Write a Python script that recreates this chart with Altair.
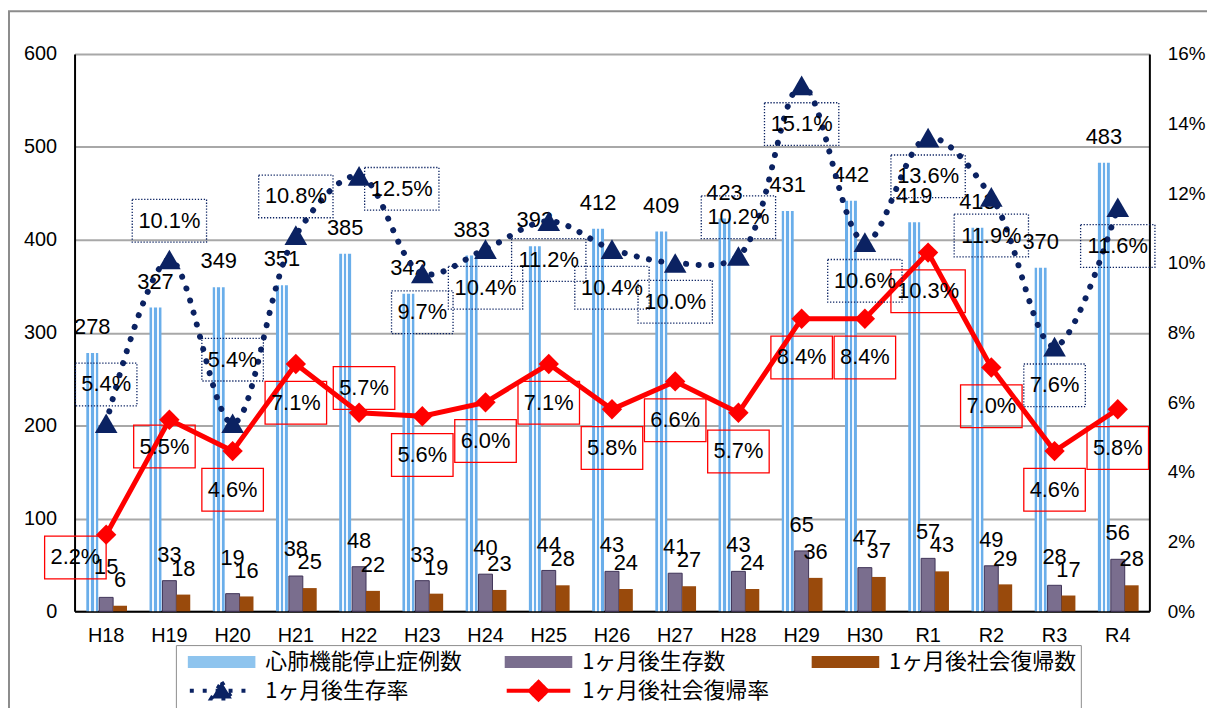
import altair as alt
import pandas as pd

# ---------------- data ----------------
categories = ["H18", "H19", "H20", "H21", "H22", "H23", "H24", "H25", "H26",
              "H27", "H28", "H29", "H30", "R1", "R2", "R3", "R4"]
cases = [278, 327, 349, 351, 385, 342, 383, 393, 412, 409, 423, 431, 442, 419, 413, 370, 483]
survived = [15, 33, 19, 38, 48, 33, 40, 44, 43, 41, 43, 65, 47, 57, 49, 28, 56]
returned = [6, 18, 16, 25, 22, 19, 23, 28, 24, 27, 24, 36, 37, 43, 29, 17, 28]
survival_rate = [5.4, 10.1, 5.4, 10.8, 12.5, 9.7, 10.4, 11.2, 10.4, 10.0, 10.2, 15.1, 10.6, 13.6, 11.9, 7.6, 11.6]
return_rate = [2.2, 5.5, 4.6, 7.1, 5.7, 5.6, 6.0, 7.1, 5.8, 6.6, 5.7, 8.4, 8.4, 10.3, 7.0, 4.6, 5.8]
series_names = ["心肺機能停止症例数", "1ヶ月後生存数", "1ヶ月後社会復帰数", "1ヶ月後生存率", "1ヶ月後社会復帰率"]
left_ticks = [0, 100, 200, 300, 400, 500, 600]
right_ticks = [0, 2, 4, 6, 8, 10, 12, 14, 16]

# label placement (style)
survival_label_pos = ["above", "above", "above_far", "above", "right", "below", "below", "below", "below",
                      "below", "above", "below", "below", "below", "below", "below", "below"]
return_label_pos = ["left", "below_near", "below", "below", "above_near", "below", "below", "below", "below",
                    "below", "below", "below", "below", "below", "below", "below", "below"]

# ---------------- style ----------------
W, H = 1082, 561
RMAX = 16
BAND = W / len(categories)
PX_PER_PCT = H / RMAX
FONT = "Liberation Sans, Noto Sans CJK JP"
JP_FONT = "Noto Sans CJK JP"
NAVY = "#0b2262"
RED = "#ff0000"
BROWN = "#994a0c"
PURPLE = "#7a6e8e"
OFFSETS = {"above": (0, -39), "above_far": (0, -64), "below": (0, 39), "right": (43, 13),
           "left": (-31, 23), "above_near": (5, -25), "below_near": (-5, 27)}

df = pd.DataFrame({
    "cat": categories, "cases": cases, "survived": survived, "returned": returned,
    "srate": survival_rate, "rrate": return_rate,
    "sdx": [OFFSETS[p][0] + BAND / 2 for p in survival_label_pos],
    "sdy": [OFFSETS[p][1] for p in survival_label_pos],
    "rdx": [OFFSETS[p][0] + BAND / 2 for p in return_label_pos],
    "rdy": [OFFSETS[p][1] for p in return_label_pos],
})

NARROW = "M-1.44,-1 L1.44,-1 L1.44,1 L-1.44,1 Z"
WIDE = "M-1.74,-1 L1.74,-1 L1.74,1 L-1.74,1 Z"

SB, SW = "#6aaeea", "#f2f8fe"
blue_grad = alt.Gradient(
    gradient="linear", x1=0, x2=1, y1=0, y2=0,
    stops=[alt.GradientStop(offset=0, color=SB), alt.GradientStop(offset=0.22, color=SB),
           alt.GradientStop(offset=0.22, color=SW), alt.GradientStop(offset=0.39, color=SW),
           alt.GradientStop(offset=0.39, color=SB), alt.GradientStop(offset=0.61, color=SB),
           alt.GradientStop(offset=0.61, color=SW), alt.GradientStop(offset=0.78, color=SW),
           alt.GradientStop(offset=0.78, color=SB), alt.GradientStop(offset=1, color=SB)])

x_axis = alt.Axis(title=None, labelAngle=0, labelFontSize=20, labelPadding=14, ticks=False,
                  domainColor="black", domainWidth=2, labelColor="black", labelFont=FONT)
x_enc = alt.X("cat:N", sort=categories, scale=alt.Scale(paddingInner=0, paddingOuter=0), axis=x_axis)

yl_axis = alt.Axis(title=None, values=left_ticks, grid=True, gridColor="#a8a8a8", gridWidth=2,
                   domainColor="black", domainWidth=2, ticks=False, labelFontSize=20, labelPadding=18,
                   labelColor="black", labelFont=FONT)
yl_scale = alt.Scale(domain=[0, 600], nice=False)
yr_axis = alt.Axis(title=None, orient="right", values=right_ticks, labelExpr="datum.value + '%'", grid=False,
                   domainColor="black", domainWidth=2, ticks=False, labelFontSize=19, labelPadding=18,
                   labelColor="black", labelFont=FONT)
yr_scale = alt.Scale(domain=[0, RMAX], nice=False)


def yl(f):
    return alt.Y(f, scale=yl_scale, axis=yl_axis)


def yr(f):
    return alt.Y(f, scale=yr_scale, axis=yr_axis)


base = alt.Chart(df)

frame = alt.Chart(pd.DataFrame({"frame": [0]})).mark_rect(
    fill="white", fillOpacity=0, stroke="#8c8c8c", strokeWidth=2
).encode(x=alt.value(-66), x2=alt.value(1160), y=alt.value(-43), y2=alt.value(700))

bar_case = base.mark_bar(width=12, xOffset=-14, fill=blue_grad).encode(x=x_enc, y=yl("cases:Q"))
bar_surv = base.mark_bar(width=14, xOffset=0, fill=PURPLE, stroke="#3f3358", strokeWidth=1).encode(
    x=x_enc, y=yl("survived:Q"))
bar_ret = base.mark_bar(width=14, xOffset=14, fill=BROWN).encode(x=x_enc, y=yl("returned:Q"))

txt_kw = dict(fontSize=22, baseline="bottom", dy=-14, font=FONT, color="black")
txt_case = base.mark_text(xOffset=-14, **txt_kw).encode(x=x_enc, y=yl("cases:Q"), text="cases:Q")
txt_surv = base.transform_calculate(sy="max(datum.survived, datum.returned + 14)").mark_text(
    xOffset=0, **txt_kw).encode(x=x_enc, y=yl("sy:Q"), text="survived:Q")
txt_ret = base.mark_text(xOffset=14, **txt_kw).encode(x=x_enc, y=yl("returned:Q"), text="returned:Q")

# legend (built by the library from the series names)
LEG = alt.Legend(title=None, orient="none", legendX=102, legendY=595, direction="horizontal", columns=3,
                 columnPadding=34, rowPadding=0, symbolSize=484, symbolStrokeWidth=4, symbolOpacity=1,
                 labelFontSize=22, labelFont=JP_FONT, labelColor="black", labelOffset=60, labelLimit=400,
                 strokeColor="#8c8c8c", padding=4)
LEG_COLORS = ["#8ec4ee", PURPLE, BROWN, NAVY, RED]
RECT = "M-0.27,-0.36 L5.55,-0.36 L5.55,0.36 L-0.27,0.36 Z"
LEG_SHAPES = [RECT, RECT, RECT,
              "M-0.27,0 L5.55,0 M2.64,-0.8 L3.58,0.7 L1.70,0.7 Z",
              "M-0.27,0 L5.55,0 M2.64,-0.8 L3.44,0 L2.64,0.8 L1.84,0 Z"]
LEG_DASH = [[1, 0], [1, 0], [1, 0], [4, 9], [1, 0]]
legend_layer = alt.Chart(pd.DataFrame({"series": series_names})).mark_point(filled=True, opacity=0).encode(
    fill=alt.Fill("series:N", scale=alt.Scale(domain=series_names, range=LEG_COLORS), legend=LEG),
    stroke=alt.Stroke("series:N", scale=alt.Scale(domain=series_names, range=LEG_COLORS), legend=LEG),
    shape=alt.Shape("series:N", scale=alt.Scale(domain=series_names, range=LEG_SHAPES), legend=LEG),
    strokeDash=alt.StrokeDash("series:N", scale=alt.Scale(domain=series_names, range=LEG_DASH), legend=LEG),
)

left = alt.layer(frame, bar_case, bar_surv, bar_ret, txt_case, txt_surv, txt_ret, legend_layer)

# ---------------- rate lines ----------------
navy_line = base.mark_line(color=NAVY, strokeWidth=6, strokeDash=[0.1, 12.5], strokeCap="round",
                           interpolate="catmull-rom").encode(x=x_enc, y=yr("srate:Q"))
navy_pts = base.mark_point(shape="triangle-up", filled=True, size=520, color=NAVY, opacity=1).encode(
    x=x_enc, y=yr("srate:Q"))
red_line = base.mark_line(color=RED, strokeWidth=5).encode(x=x_enc, y=yr("rrate:Q"))
red_pts = base.mark_point(shape="diamond", filled=True, size=420, color=RED, opacity=1).encode(
    x=x_enc, y=yr("rrate:Q"))

shape_expr = "length(datum.lbl) > 4 ? '" + WIDE + "' : '" + NARROW + "'"


def labels(rate, dxf, dyf):
    return base.transform_calculate(
        lbl="format(datum." + rate + ", '.1f') + '%'"
    ).transform_calculate(
        shp=shape_expr,
        ly="datum." + rate + " - datum." + dyf + " / " + str(PX_PER_PCT),
    )


navy_lab = labels("srate", "sdx", "sdy")
navy_box = navy_lab.mark_point(filled=False, opacity=1, size=1849, stroke=NAVY, strokeWidth=1.3,
                               strokeDash=[1.3, 1.7]).encode(
    x=x_enc, y=yr("ly:Q"), xOffset=alt.XOffset("sdx:Q", scale=None), shape=alt.Shape("shp:N", scale=None))
navy_txt = navy_lab.mark_text(fontSize=22, font=FONT, color="black", baseline="middle").encode(
    x=x_enc, y=yr("ly:Q"), xOffset=alt.XOffset("sdx:Q", scale=None), text="lbl:N")

red_lab = labels("rrate", "rdx", "rdy")
red_box = red_lab.mark_point(filled=False, opacity=1, size=1849, stroke=RED, strokeWidth=1.3).encode(
    x=x_enc, y=yr("ly:Q"), xOffset=alt.XOffset("rdx:Q", scale=None), shape=alt.Shape("shp:N", scale=None))
red_txt = red_lab.mark_text(fontSize=22, font=FONT, color="black", baseline="middle").encode(
    x=x_enc, y=yr("ly:Q"), xOffset=alt.XOffset("rdx:Q", scale=None), text="lbl:N")

right = alt.layer(navy_line, red_line, navy_pts, red_pts, navy_box, red_box, navy_txt, red_txt)

chart = alt.layer(left, right).resolve_scale(y="independent").properties(
    width=W, height=H,
    autosize=alt.AutoSizeParams(type="none"),
    padding={"left": 67, "top": 44, "right": 58, "bottom": 95},
).configure_view(stroke=None)

chart.save("out.html", embed_options={"renderer": "svg", "actions": False})
